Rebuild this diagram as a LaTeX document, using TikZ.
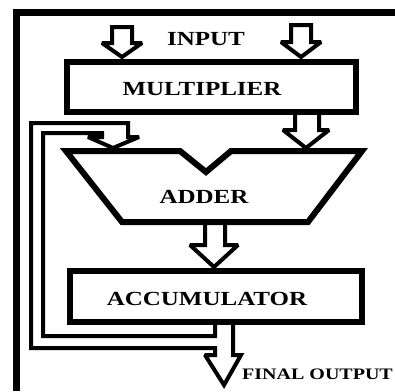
\documentclass[tikz,border=0pt]{standalone}
\usepackage{xcolor}
\usepackage{graphicx}
\usepackage{fontspec}
\setmainfont{Liberation Serif}
\usepackage{tikz}

\newcommand{\wide}[1]{\scalebox{1.25}[1]{#1}}

\begin{document}
\begin{tikzpicture}[x=1pt,y=-1pt,line join=miter,
    box/.style={draw,shape=rectangle,line width=6pt,inner sep=0pt},
    blk/.style={draw,line width=4pt,miter limit=2},
    lbl/.style={inner sep=0pt,font=\bfseries\fontsize{20}{20}\selectfont}]
  \useasboundingbox (0,0) rectangle (395,391);
  \draw[line width=7pt] (16.5,391) -- (16.5,12.5) -- (395,12.5);

  \node[box,minimum width=289pt,minimum height=50pt] (mult) at (211.5,87) {};
  \node[lbl] (multtext) at (202,89.5) {\wide{MULTIPLIER}};
  \node[box,minimum width=292pt,minimum height=51pt] (acc) at (216,296.5) {};
  \node[lbl] (acctext) at (207,298.5) {\wide{ACCUMULATOR}};
  \draw[line width=6pt,miter limit=3] (66,151) -- (180,151) -- (206,172) -- (231,151) -- (362,151)
    -- (308,222) -- (122,222) -- cycle;
  \node[lbl] (addtext) at (204,196.5) {\wide{ADDER}};

  \node[lbl] (intext) at (206,39) {\wide{INPUT}};
  \node[lbl,font=\bfseries\fontsize{16}{16}\selectfont] (outtext) at (317.5,374) {\wide{FINAL OUTPUT}};

  \draw[blk] (112,27) -- (132,27) -- (132,43) -- (142,43) -- (122,57) -- (102,43) -- (112,43) -- cycle;
  \draw[blk] (291,25) -- (311,25) -- (311,42) -- (321,42) -- (301,57) -- (281,42) -- (291,42) -- cycle;
  \draw[blk] (295,112) -- (295,130) -- (283,130) -- (306,148) -- (329,130) -- (319,130) -- (319,112);
  \draw[blk] (205,222) -- (205,245) -- (190,245) -- (214,267) -- (238,245) -- (225,245) -- (225,222);
  \draw[blk] (215,322) -- (215,336) -- (43,336) -- (43,133) -- (102,133) -- (102,137) -- (88,137)
    -- (113,148) -- (139,137) -- (128,137) -- (128,123) -- (31,123) -- (31,348) -- (215,348)
    -- (215,355) -- (205,355) -- (224,385) -- (241,355) -- (233,355) -- (233,322);
\end{tikzpicture}
\end{document}
